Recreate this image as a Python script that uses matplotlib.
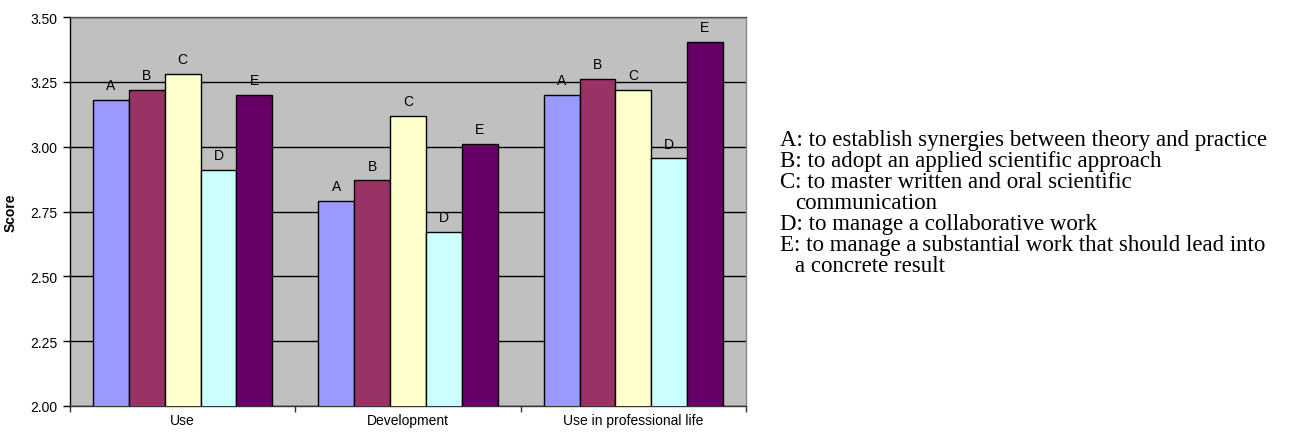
import matplotlib
matplotlib.use("Agg")
import matplotlib.pyplot as plt
import numpy as np

# Survey scores per competence (A-E) for each context
categories = ["Use", "Development", "Use in professional life"]
series_labels = ["A", "B", "C", "D", "E"]
scores_A = [3.18, 2.79, 3.20]
scores_B = [3.22, 2.87, 3.26]
scores_C = [3.28, 3.12, 3.22]
scores_D = [2.91, 2.67, 2.955]
scores_E = [3.20, 3.01, 3.405]
series_colors = ["#9999FF", "#993366", "#FFFFCC", "#CCFFFF", "#660066"]
y_ticks = [2.00, 2.25, 2.50, 2.75, 3.00, 3.25, 3.50]
# key lines: (text, is_continuation)
key_lines = [
    ("A: to establish synergies between theory and practice", False),
    ("B: to adopt an applied scientific approach", False),
    ("C: to master written and oral scientific", False),
    ("communication", True),
    ("D: to manage a collaborative work", False),
    ("E: to manage a substantial work that should lead into", False),
    ("a concrete result", True),
]

W, H = 1303, 435
fig = plt.figure(figsize=(W / 100, H / 100), dpi=100)
ax = fig.add_axes([70 / W, 1 - 407 / H, (746 - 70) / W, (407 - 18) / H])
ax.set_facecolor("#C0C0C0")

sans = "Liberation Sans"
all_scores = [scores_A, scores_B, scores_C, scores_D, scores_E]
n = len(series_labels)
bar_w = 0.159
x = np.arange(len(categories))
for i, (vals, col, lab) in enumerate(zip(all_scores, series_colors, series_labels)):
    pos = x + (i - (n - 1) / 2) * bar_w
    ax.bar(pos, vals, width=bar_w, color=col, edgecolor="black", linewidth=1.0,
           zorder=3)
    for p, v in zip(pos, vals):
        ax.text(p, v + 0.03, lab, ha="center", va="bottom", fontsize=10,
                family=sans, color="black", zorder=4)

ax.set_xlim(-0.5, len(categories) - 0.5)
ax.set_ylim(2.0, 3.5)
ax.set_yticks(y_ticks)
ax.set_yticklabels([f"{t:.2f}" for t in y_ticks], family=sans, fontsize=10)
ax.yaxis.grid(True, color="black", linewidth=1.0, zorder=1)
ax.set_axisbelow(True)

# category boundary ticks on the x axis, labels centred under each group
ax.set_xticks(np.arange(len(categories) + 1) - 0.5)
ax.set_xticklabels([])
ax.set_xticks(x, minor=True)
ax.set_xticklabels(categories, minor=True, family=sans, fontsize=10)
ax.tick_params(axis="x", which="major", direction="out", length=4, width=1,
               color="#333333")
ax.tick_params(axis="x", which="minor", length=0, pad=5)
ax.tick_params(axis="y", direction="out", length=5, width=1, color="black",
               pad=4)

ax.spines["left"].set_color("black")
ax.spines["bottom"].set_color("#333333")
ax.spines["top"].set_color("#555555")
ax.spines["right"].set_color("#888888")
for s in ax.spines.values():
    s.set_linewidth(1.0)

ax.set_ylabel("Score", family=sans, fontsize=10, fontweight="bold", labelpad=9)

# descriptive key on the right
baseline0 = 146
line_h = 21
for k, (txt, cont) in enumerate(key_lines):
    xk = 795 if cont else 780
    fig.text(xk / W, 1 - (baseline0 + k * line_h) / H, txt,
             family="Liberation Serif", fontsize=16.5, va="baseline", ha="left")

fig.savefig("out.png", dpi=100)
